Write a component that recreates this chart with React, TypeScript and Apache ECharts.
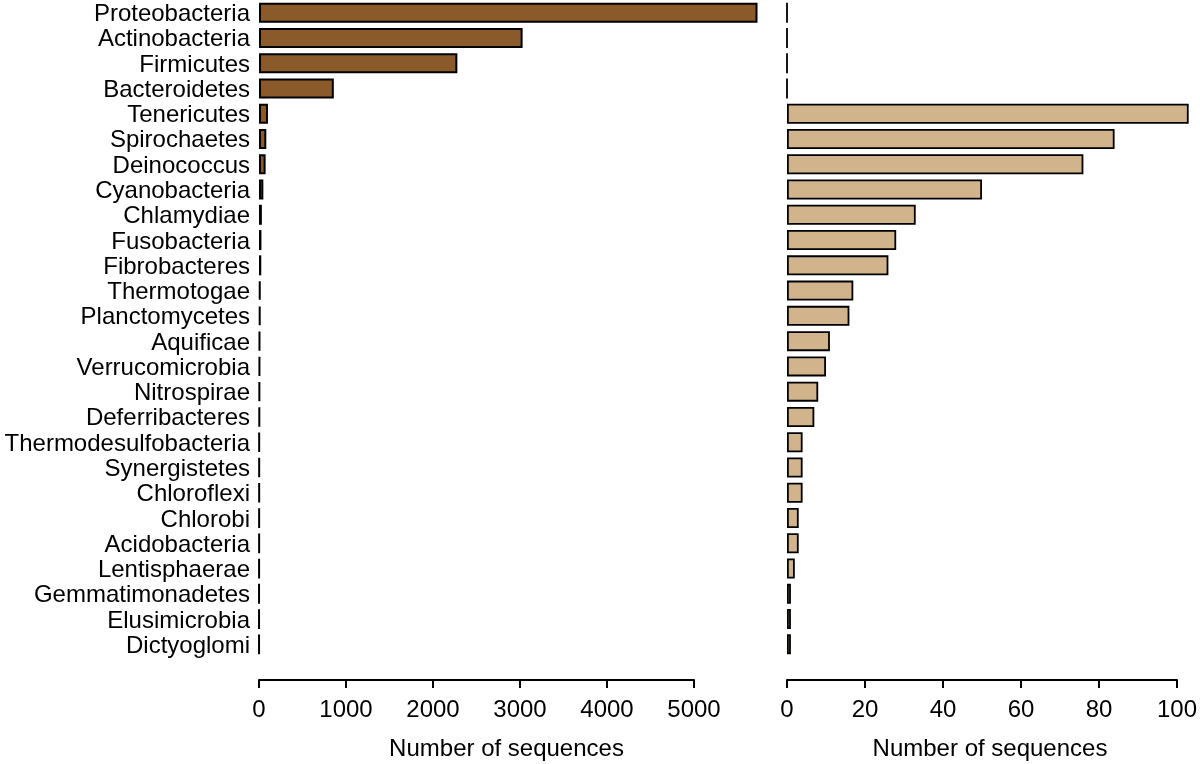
import React, { useEffect, useRef } from "react";
import * as echarts from "echarts";

const categories = [
  "Proteobacteria", "Actinobacteria", "Firmicutes", "Bacteroidetes", "Tenericutes",
  "Spirochaetes", "Deinococcus", "Cyanobacteria", "Chlamydiae", "Fusobacteria",
  "Fibrobacteres", "Thermotogae", "Planctomycetes", "Aquificae", "Verrucomicrobia",
  "Nitrospirae", "Deferribacteres", "Thermodesulfobacteria", "Synergistetes", "Chloroflexi",
  "Chlorobi", "Acidobacteria", "Lentisphaerae", "Gemmatimonadetes", "Elusimicrobia", "Dictyoglomi",
];

const allCounts = [5730, 3030, 2280, 860, 103, 84, 76, 50, 33, 28, 26, 17, 16, 11, 10, 8, 7, 4, 4, 4, 3, 3, 2, 1, 1, 1];
const rareCounts = [0, 0, 0, 0, 103, 84, 76, 50, 33, 28, 26, 17, 16, 11, 10, 8, 7, 4, 4, 4, 3, 3, 2, 1, 1, 1];

const leftTicks = { min: 0, max: 5000, interval: 1000 };
const rightTicks = { min: 0, max: 100, interval: 20 };
const axisTitle = "Number of sequences";

export default function App() {
  const ref = useRef<HTMLDivElement>(null);
  useEffect(() => {
    const chart = echarts.init(ref.current!, null, { renderer: "svg" });
    const font = "'Liberation Sans', Arial, sans-serif";
    const fs = 24;
    const xAxisBase = (
      gridIndex: number,
      t: { min: number; max: number; interval: number },
      nameShift: number
    ) => ({
      gridIndex,
      type: "value",
      min: t.min,
      max: t.max,
      interval: t.interval,
      position: "bottom",
      offset: 23,
      axisLine: { show: true, lineStyle: { color: "#000", width: 2 } },
      axisTick: { show: true, length: 8, lineStyle: { color: "#000", width: 2 } },
      axisLabel: {
        color: "#000",
        fontSize: fs,
        fontFamily: font,
        margin: 16,
        formatter: (v: number) => String(v),
      },
      splitLine: { show: false },
      name: axisTitle,
      nameLocation: "middle",
      nameGap: 55,
      nameTextStyle: {
        color: "#000",
        fontSize: fs,
        fontFamily: font,
        padding: [0, 0, 0, nameShift * 2],
      },
    });
    chart.setOption({
      animation: false,
      textStyle: { fontFamily: font },
      grid: [
        { left: 259, width: 435, top: -1, height: 661 },
        { left: 787, width: 394, top: -1, height: 661 },
      ],
      xAxis: [xAxisBase(0, leftTicks, 30), xAxisBase(1, rightTicks, 8)],
      yAxis: [
        {
          gridIndex: 0,
          type: "category",
          data: categories,
          inverse: true,
          axisLine: { show: false },
          axisTick: { show: false },
          axisLabel: { color: "#000", fontSize: fs, fontFamily: font, margin: 9, interval: 0 },
        },
        {
          gridIndex: 1,
          type: "category",
          data: categories,
          inverse: true,
          axisLine: { show: false },
          axisTick: { show: false },
          axisLabel: { show: false },
        },
      ],
      series: [
        {
          type: "bar",
          xAxisIndex: 0,
          yAxisIndex: 0,
          data: allCounts,
          barWidth: 20,
          clip: false,
          itemStyle: { color: "#8B5A2B", borderColor: "#000", borderWidth: 2 },
        },
        {
          type: "bar",
          xAxisIndex: 1,
          yAxisIndex: 1,
          data: rareCounts,
          barWidth: 20,
          clip: false,
          itemStyle: { color: "#D2B48C", borderColor: "#000", borderWidth: 1.8 },
        },
      ],
    });
    return () => chart.dispose();
  }, []);
  return (
    <div
      ref={ref}
      style={{ position: "fixed", left: 0, top: 0, width: 1200, height: 764 }}
    />
  );
}
